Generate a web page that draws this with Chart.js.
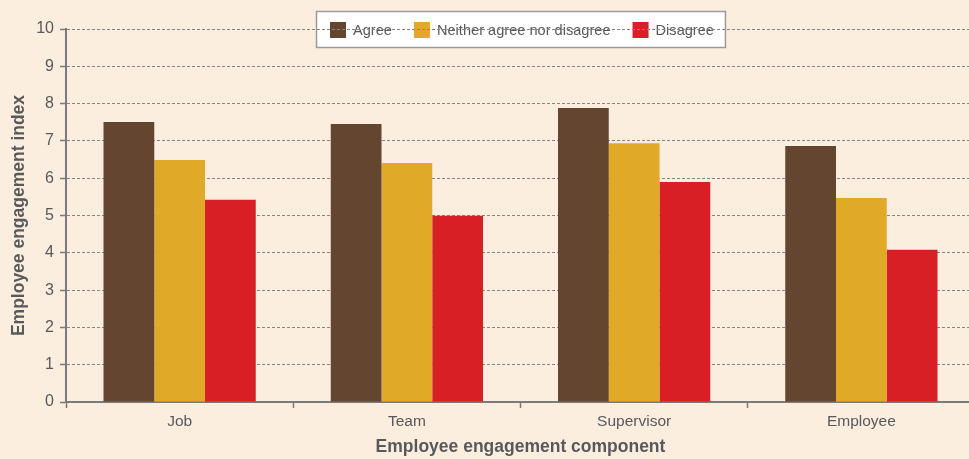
<!DOCTYPE html>
<html>
<head>
<meta charset="utf-8">
<script src="https://cdn.jsdelivr.net/npm/chart.js@4/dist/chart.umd.min.js"></script>
<style>
	html, body { margin: 0; padding: 0; background: #FCEEDF; overflow: hidden; }
	/* the original plot is cropped on the right, so the canvas runs a few px past the window */
	#wrap { width: 975px; height: 459px; position: relative; }
</style>
</head>
<body>
<div id="wrap"><canvas id="chart"></canvas></div>
<script>
// data
const categories = ['Job', 'Team', 'Supervisor', 'Employee'];
const seriesNames = ['Agree', 'Neither agree nor disagree', 'Disagree'];
const agreeValues = [7.51, 7.45, 7.88, 6.86];
const neitherValues = [6.49, 6.41, 6.94, 5.47];
const disagreeValues = [5.42, 4.99, 5.90, 4.08];
const seriesColors = ['#634530', '#E0AA28', '#D91F26'];

const FONT = "'Liberation Sans', Arial, sans-serif";
const TEXT = '#58595b';
const GRID = '#858585';
const AXIS = '#7a7a7a';

// background + boxed legend drawn first, so the dashed grid runs over it like in the original
const backdrop = {
	id: 'backdrop',
	beforeDraw(chart) {
		const ctx = chart.ctx;
		const area = chart.chartArea;
		ctx.save();
		ctx.fillStyle = '#FCEEDF';
		ctx.fillRect(0, 0, chart.width, chart.height);

		ctx.font = '14.6px ' + FONT;
		let sw = 16, gapText = 7, gapItem = 22, padL = 14, padR = 12;
		let widths = chart.data.datasets.map((ds) => ctx.measureText(ds.label).width);
		let total = padL + padR;
		widths.forEach((w, i) => { total += sw + gapText + w + (i < widths.length - 1 ? gapItem : 0); });
		let cx = (area.left + area.right) / 2;
		let x0 = Math.round(cx - total / 2);
		let y0 = 11, h = 37;
		ctx.fillStyle = '#ffffff';
		ctx.fillRect(x0, y0, total, h);
		ctx.strokeStyle = '#9a9a9a';
		ctx.lineWidth = 1.5;
		ctx.strokeRect(x0 + 0.5, y0 + 0.5, total - 1, h - 1);

		let x = x0 + padL;
		let cy = y0 + h / 2 + 0.5;
		ctx.textBaseline = 'middle';
		ctx.textAlign = 'left';
		chart.data.datasets.forEach((ds, i) => {
			ctx.fillStyle = ds.backgroundColor;
			ctx.fillRect(x, cy - sw / 2, sw, sw);
			x += sw + gapText;
			ctx.fillStyle = TEXT;
			ctx.fillText(ds.label, x, cy + 1);
			x += widths[i] + gapItem;
		});
		ctx.restore();
	}
};

const ctx = document.getElementById('chart').getContext('2d');
const myChart = new Chart(ctx, {
	type: 'bar',
	data: {
		labels: categories,
		datasets: [
			{ label: seriesNames[0], data: agreeValues, backgroundColor: seriesColors[0] },
			{ label: seriesNames[1], data: neitherValues, backgroundColor: seriesColors[1] },
			{ label: seriesNames[2], data: disagreeValues, backgroundColor: seriesColors[2] }
		]
	},
	options: {
		responsive: true,
		maintainAspectRatio: false,
		animation: false,
		layout: { padding: { top: 29, right: 0, left: 0, bottom: 0 } },
		datasets: {
			bar: { barPercentage: 1.0, categoryPercentage: 0.67, borderWidth: 0 }
		},
		plugins: {
			legend: { display: false },
			tooltip: { enabled: false }
		},
		scales: {
			x: {
				grid: {
					display: true,
					offset: true,
					drawOnChartArea: false,
					drawTicks: true,
					tickLength: 6,
					tickColor: AXIS,
					tickWidth: 1.5
				},
				border: { display: true, color: AXIS, width: 2 },
				ticks: {
					color: TEXT,
					padding: 4,
					font: { family: FONT, size: 15.5 }
				},
				title: {
					display: true,
					text: 'Employee engagement component',
					color: TEXT,
					padding: { top: 2, bottom: 1 },
					font: { family: FONT, size: 17.5, weight: 'bold' }
				},
				afterFit: (scale) => { scale.height = 57; }
			},
			y: {
				min: 0,
				max: 10,
				ticks: {
					stepSize: 1,
					color: TEXT,
					padding: 6,
					font: { family: FONT, size: 16 }
				},
				grid: {
					color: GRID,
					lineWidth: 1,
					borderDash: [3, 2],
					tickLength: 6,
					tickColor: AXIS,
					tickWidth: 1.5,
					tickBorderDash: []
				},
				border: { display: true, color: AXIS, width: 2, dash: [3, 2] },
				title: {
					display: true,
					text: 'Employee engagement index',
					color: TEXT,
					padding: { top: 9, bottom: 2 },
					font: { family: FONT, size: 17.5, weight: 'bold' }
				},
				afterFit: (scale) => { scale.width = 66; }
			}
		}
	},
	plugins: [backdrop]
});
</script>
</body>
</html>
